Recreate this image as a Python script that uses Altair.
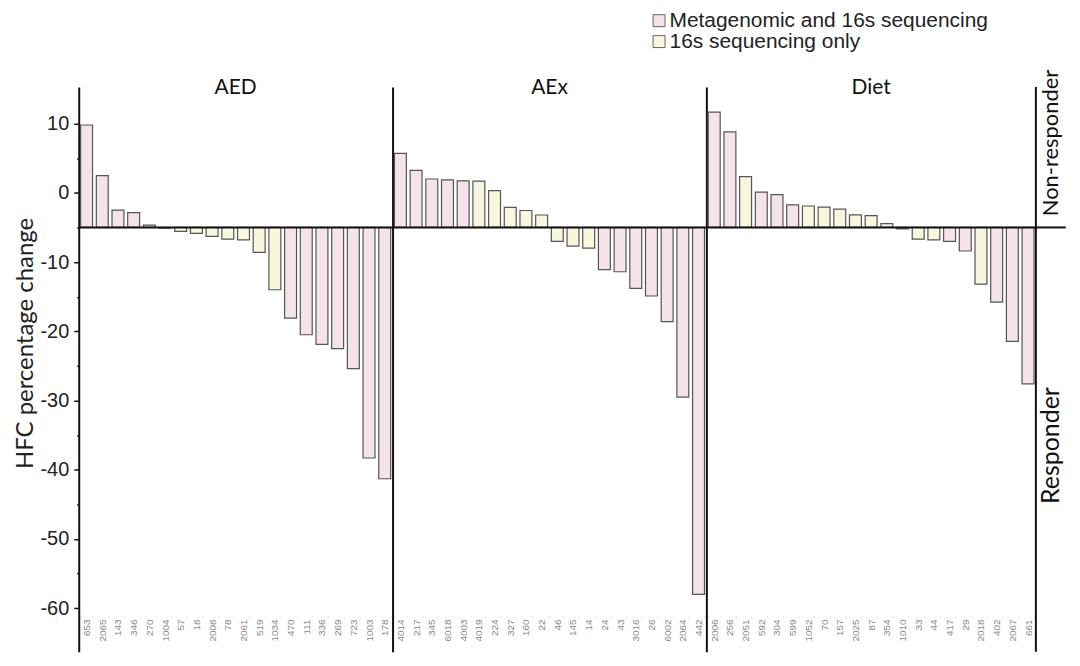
import altair as alt
import pandas as pd

# ---------------- data ----------------
aed_ids = ["653", "2065", "143", "346", "270", "1004", "57", "18", "2008", "78",
           "2061", "519", "1034", "470", "111", "336", "269", "723", "1003", "178"]
aed_vals = [9.8, 2.5, -2.5, -2.85, -4.65, -5.1, -5.57, -5.86, -6.3, -6.7,
            -6.8, -8.6, -14.0, -18.1, -20.5, -21.9, -22.5, -25.4, -38.3, -41.3]
aed_type = ["M", "M", "M", "M", "M", "M", "S", "S", "S", "S",
            "S", "S", "S", "M", "M", "M", "M", "M", "M", "M"]

aex_ids = ["4014", "217", "345", "6018", "4003", "4019", "224", "327", "160", "22",
           "46", "145", "14", "24", "43", "3016", "26", "6002", "2064", "442"]
aex_vals = [5.7, 3.25, 2.0, 1.87, 1.73, 1.7, 0.33, -2.1, -2.55, -3.2,
            -7.0, -7.7, -8.0, -11.1, -11.4, -13.8, -14.9, -18.6, -29.5, -58.0]
aex_type = ["M", "M", "M", "M", "M", "S", "S", "S", "S", "S",
            "S", "S", "S", "M", "M", "M", "M", "M", "M", "M"]

diet_ids = ["2006", "256", "2051", "592", "304", "599", "1052", "70", "157", "2025",
            "87", "354", "1010", "33", "44", "417", "29", "2018", "402", "2067", "661"]
diet_vals = [11.65, 8.8, 2.35, 0.1, -0.25, -1.73, -1.9, -2.05, -2.35, -3.17,
             -3.3, -4.46, -5.2, -6.7, -6.8, -7.0, -8.4, -13.2, -15.8, -21.45, -27.6]
diet_type = ["M", "M", "S", "M", "M", "M", "S", "S", "S", "S",
             "S", "S", "S", "S", "S", "M", "M", "S", "M", "M", "M"]

type_names = {"M": "Metagenomic and 16s sequencing", "S": "16s sequencing only"}
threshold = -5

# ---------------- style ----------------
PINK = "#f5e3ea"
YELLOW = "#f8f6dc"
STEP = 15.75
Y_DOMAIN = [-66.3, 15.3]
PLOT_H = 567
HUM_FONT = "Lato"
SANS = "Liberation Sans"


def make_df(ids, vals, types):
    return pd.DataFrame({
        "id": ids,
        "value": vals,
        "base": [threshold] * len(ids),
        "type": [type_names[t] for t in types],
    })


color_scale = alt.Scale(
    domain=[type_names["M"], type_names["S"]],
    range=[PINK, YELLOW],
)

ONE = pd.DataFrame({"k": [0]})


def panel(df, title, first=False, last=False):
    w = STEP * len(df)
    if first:
        yaxis = alt.Axis(
            values=list(range(10, -65, -5)),
            labelExpr="datum.value % 10 === 0 ? toString(datum.value) : ''",
            tickSize={"condition": {"test": "datum.value % 10 !== 0", "value": 2}, "value": 5},
            tickColor="#111", tickWidth=1.5,
            labelFont=SANS, labelFontSize=20, labelColor="#222", labelPadding=5,
            labelOverlap=False,
            domainColor="#111", domainWidth=2,
            title="HFC percentage change", titleFont=HUM_FONT, titleFontSize=24,
            titleFontWeight="normal", titleColor="#222", titlePadding=3,
            titleY=257,
            grid=False,
        )
    else:
        yaxis = alt.Axis(labels=False, ticks=False, title=None, grid=False,
                         domainColor="#111", domainWidth=2)

    base = alt.Chart(df)
    bars = base.mark_bar(stroke="#555", strokeWidth=1.2).encode(
        x=alt.X("id:N", sort=None,
                scale=alt.Scale(paddingInner=0.24, paddingOuter=0.12),
                axis=alt.Axis(title=None, labelAngle=-90, labelFont=SANS,
                              labelFontSize=10, labelColor="#888", domain=False,
                              tickBand="extent", tickColor="#e6e6e6", tickSize=3,
                              labelPadding=1, offset=-37, grid=False)),
        y=alt.Y("value:Q", scale=alt.Scale(domain=Y_DOMAIN, nice=False, zero=False),
                axis=yaxis),
        y2="base:Q",
        color=alt.Color("type:N", scale=color_scale, title=None),
    )
    rule = alt.Chart(ONE).mark_rule(color="#111", strokeWidth=2).encode(
        y=alt.datum(threshold))
    ttl = alt.Chart(ONE).mark_text(font=HUM_FONT, fontSize=21, color="#111",
                                   fontWeight="normal",
                                   baseline="alphabetic", align="center").encode(
        x=alt.value(w / 2), y=alt.value(7), text=alt.value(title))
    layers = [bars, rule, ttl]
    if last:
        right = alt.Chart(ONE).mark_rule(color="#111", strokeWidth=2).encode(
            x=alt.value(w))
        ext = alt.Chart(ONE).mark_rule(color="#111", strokeWidth=2).encode(
            x=alt.value(w), x2=alt.value(w + 30), y=alt.datum(threshold))
        non = alt.Chart(ONE).mark_text(font=HUM_FONT, fontSize=22, color="#111",
                                       angle=270, baseline="middle", align="center").encode(
            x=alt.value(w + 15), y=alt.datum(7.2), text=alt.value("Non-responder"))
        resp = alt.Chart(ONE).mark_text(font=HUM_FONT, fontSize=25, color="#111",
                                        angle=270, baseline="middle", align="center").encode(
            x=alt.value(w + 15), y=alt.datum(-36.5), text=alt.value("Responder"))
        layers += [right, ext, non, resp]
    return alt.layer(*layers).properties(width=w, height=PLOT_H)


p1 = panel(make_df(aed_ids, aed_vals, aed_type), "AED", first=True)
p2 = panel(make_df(aex_ids, aex_vals, aex_type), "AEx")
p3 = panel(make_df(diet_ids, diet_vals, diet_type), "Diet", last=True)

chart = alt.hconcat(p1, p2, p3, spacing=0, bounds="flush").properties(
    padding={"left": 5, "top": 1, "right": 5, "bottom": 5}
).configure_view(stroke=None).configure_legend(
    orient="none", legendX=572, legendY=-77,
    symbolType="square", symbolSize=144, symbolStrokeColor="#666",
    symbolStrokeWidth=1, labelFont=SANS, labelFontSize=21, labelColor="#222",
    labelLimit=500, labelOffset=0, rowPadding=-3, padding=0,
)

chart.save("out.html", embed_options={"renderer": "svg", "actions": False})
